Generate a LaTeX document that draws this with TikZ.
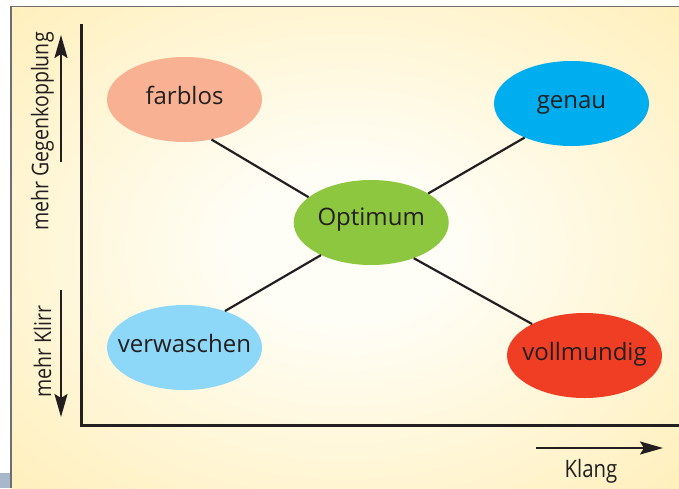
\documentclass[tikz,border=0pt]{standalone}
\usepackage{fontspec}
\setmainfont{Open Sans}
\newfontfamily\condfont[FakeStretch=0.85]{Open Sans}
\usetikzlibrary{shapes.geometric,arrows.meta}
\definecolor{ink}{HTML}{231F20}
\definecolor{cfarb}{HTML}{F9B193}
\definecolor{cgenau}{HTML}{00AEEF}
\definecolor{copt}{HTML}{8DC63F}
\definecolor{cverw}{HTML}{8DD8F8}
\definecolor{cvoll}{HTML}{EF3E24}
\definecolor{bgin}{HTML}{FFFEF6}
\definecolor{bgout}{HTML}{FFECAE}
\definecolor{framegray}{HTML}{6D6E71}
\definecolor{tabcol}{HTML}{A6B8CA}
\pgfdeclareradialshading{bgshade}{\pgfpoint{0bp}{0bp}}{color(0bp)=(bgin); color(8bp)=(bgin); color(42bp)=(bgout); color(80bp)=(bgout)}
\begin{document}
\begin{tikzpicture}[x=1pt,y=-1pt,
  blob/.style={ellipse, minimum width=155pt, minimum height=85pt, inner sep=0pt, draw=none},
  lbl/.style={font=\fontsize{24}{28}\selectfont, text=ink, inner sep=0pt, anchor=base},
  axlbl/.style={font=\condfont\fontsize{23}{27}\selectfont, text=ink, inner sep=0pt},
  conn/.style={draw=ink, line width=2.2pt},
  axisline/.style={draw=ink, line width=2.3pt, line join=miter},
  arr/.style={draw=ink, line width=2.3pt, -{Stealth[length=23pt,width=13pt,inset=4pt]}}]
\useasboundingbox (0,0) rectangle (679,488);
\fill[white] (0,0) rectangle (679,488);
\shade[shading=bgshade] (11,6) rectangle (679,488);
\draw[framegray, line width=1.3pt] (11,488) -- (11,6.5) -- (679,6.5);
\fill[tabcol] (0,473) rectangle (10.3,488);

% axes
\coordinate (ytop) at (81.5,24);
\coordinate (origin) at (81.5,425.5);
\coordinate (xend) at (679,425.5);
\draw[axisline] (ytop) -- (origin) -- (xend);

% direction arrows
\coordinate (ua1) at (61,162);
\coordinate (ua2) at (61,35);
\coordinate (da1) at (61,290);
\coordinate (da2) at (61,417);
\coordinate (ka1) at (536,448);
\coordinate (ka2) at (663,448);
\draw[arr] (ua1) -- (ua2);
\draw[arr] (da1) -- (da2);
\draw[arr] (ka1) -- (ka2);

% axis labels
\node[axlbl, rotate=90] (lgk) at (42.5,131.5) {mehr Gegenkopplung};
\node[axlbl, rotate=90] (lkl) at (42.5,351.5) {mehr Klirr};
\node[axlbl, anchor=base, font=\condfont\fontsize{24}{28}\selectfont] (lklang) at (591,477) {Klang};

% ellipses
\node[blob, fill=cfarb] (farblos) at (184.5,99.5) {};
\node[blob, fill=cgenau] (genau) at (571.5,103.5) {};
\node[blob, fill=copt] (opt) at (371.2,222.5) {};
\node[blob, fill=cverw] (verw) at (184.5,347.5) {};
\node[blob, fill=cvoll] (voll) at (584.5,355.5) {};

\node[lbl] (tfarblos) at ([yshift=-4.5pt]farblos.center) {farblos};
\node[lbl] (tgenau) at ([yshift=-4.5pt]genau.center) {genau};
\node[lbl] (topt) at ([yshift=-3pt]opt.center) {Optimum};
\node[lbl] (tverw) at ([yshift=-4.5pt]verw.center) {verwaschen};
\node[lbl] (tvoll) at ([yshift=-4.5pt]voll.center) {vollmundig};

% connectors
\draw[conn] (farblos.-56) -- (opt.158.4);
\draw[conn] (genau.-144.6) -- (opt.27);
\draw[conn] (verw.42.4) -- (opt.213.8);
\draw[conn] (voll.149.7) -- (opt.-40.6);
\end{tikzpicture}
\end{document}
